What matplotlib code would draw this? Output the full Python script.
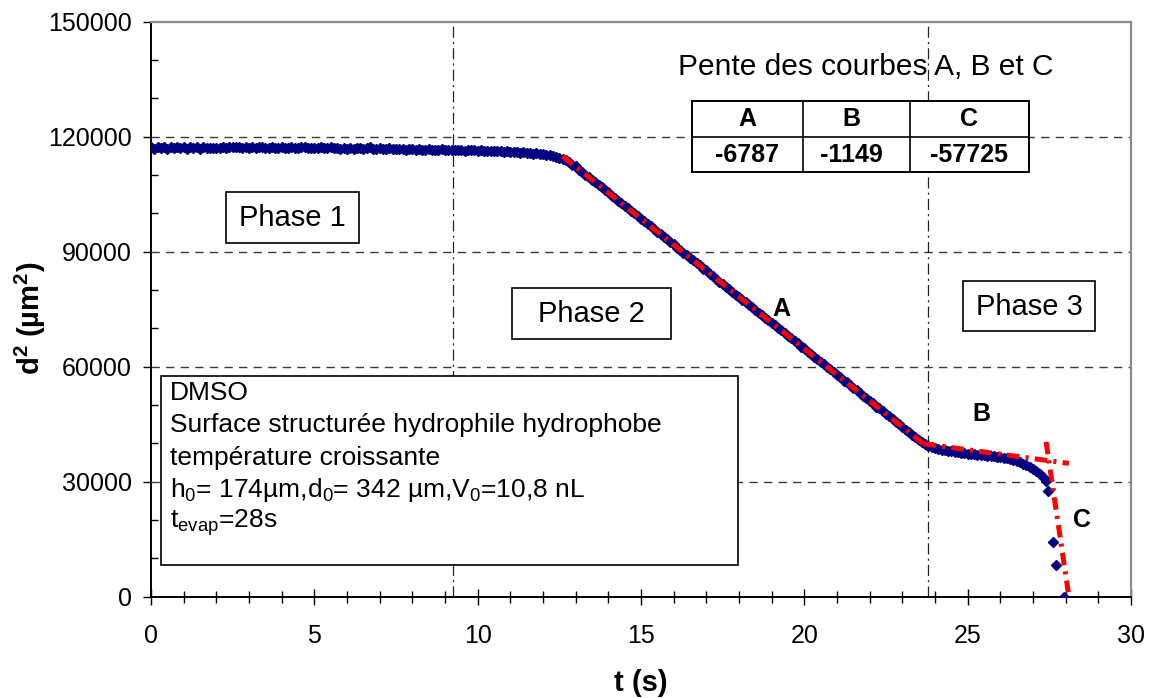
import numpy as np
import matplotlib
matplotlib.use("Agg")
import matplotlib.pyplot as plt
from matplotlib.patches import Rectangle
from matplotlib.ticker import MultipleLocator, FuncFormatter

plt.rcParams['font.family'] = ['Liberation Sans', 'DejaVu Sans']
plt.rcParams['mathtext.default'] = 'regular'
plt.rcParams['lines.scale_dashes'] = False

# Squared diameter d² (thousands of µm²), one sample every 0.1 s from t = 0 s
t_step = 0.1
d2_main_k = [
    117.3, 116.9, 117.4, 117.0, 117.3, 116.9, 117.4, 117.1, 117.3, 117.0,
    117.2, 116.9, 117.3, 117.1, 117.2, 116.9, 117.3, 117.0, 117.1, 117.0,
    117.1, 117.0, 117.2, 117.1, 117.4, 117.3, 117.2, 117.4, 117.1, 117.2,
    117.1, 117.3, 117.0, 117.2, 117.3, 117.0, 117.1, 117.2, 117.0, 117.1,
    117.3, 117.1, 117.0, 117.2, 117.1, 117.0, 117.2, 117.3, 117.1, 117.0,
    117.1, 117.0, 117.2, 117.1, 117.0, 117.3, 117.1, 117.0, 116.9, 117.1,
    116.8, 117.0, 116.9, 117.0, 117.1, 116.9, 117.0, 117.2, 116.9, 116.8,
    117.0, 116.9, 116.8, 117.0, 116.9, 116.7, 116.9, 116.8, 116.6, 116.8,
    116.7, 116.6, 116.8, 116.6, 116.5, 116.7, 116.6, 116.5, 116.6, 116.7,
    116.6, 116.5, 116.6, 116.5, 116.6, 116.5, 116.4, 116.6, 116.5, 116.5,
    116.4, 116.5, 116.3, 116.4, 116.3, 116.4, 116.2, 116.3, 116.1, 116.2,
    116.0, 116.1, 115.9, 115.8, 115.9, 115.7, 115.8, 115.6, 115.7, 115.5,
    115.4, 115.3, 115.1, 114.9, 114.7, 114.5, 114.2, 113.8, 113.3, 112.7,
    112.3, 111.4, 110.9, 110.0, 109.6, 108.7, 108.2, 107.3, 106.9, 106.0,
    105.5, 104.6, 104.1, 103.2, 102.8, 101.9, 101.4, 100.5, 100.1, 99.2,
    98.5, 98.0, 97.1, 96.7, 95.8, 95.2, 94.6, 93.8, 93.3, 92.5,
    91.9, 91.0, 90.5, 89.7, 89.1, 88.4, 87.8, 87.0, 86.5, 85.6,
    85.1, 84.2, 83.7, 83.0, 82.2, 81.7, 80.9, 80.3, 79.6, 78.8,
    78.3, 77.4, 76.9, 76.2, 75.5, 74.8, 74.1, 73.5, 72.7, 72.2,
    71.3, 70.9, 70.0, 69.5, 68.7, 68.1, 67.5, 66.6, 66.1, 65.2,
    64.8, 63.9, 63.4, 62.6, 62.0, 61.2, 60.7, 59.9, 59.3, 58.5,
    57.9, 57.3, 56.4, 55.9, 55.2, 54.4, 53.9, 53.1, 52.4, 51.9,
    51.0, 50.5, 49.6, 49.1, 48.4, 47.6, 47.1, 46.3, 45.7, 45.0,
    44.4, 43.6, 43.0, 42.2, 41.6, 40.9, 40.3, 39.8, 39.3, 39.1,
    38.8, 38.6, 38.4, 38.3, 38.1, 38.0, 37.8, 37.7, 37.6, 37.4,
    37.3, 37.2, 37.2, 37.0, 37.0, 36.9, 36.8, 36.7, 36.6, 36.5,
    36.4, 36.3, 36.1, 35.9, 35.7, 35.4, 35.1, 34.7, 34.3, 33.8,
    33.3, 32.7, 32.0, 31.2,
]
# Last frames, when the drop collapses
t_tail = [27.40, 27.46, 27.60, 27.69, 27.94]
d2_tail_k = [30.1, 27.7, 14.4, 8.3, 0.0]

# Linear fits (slopes in µm²/s) and the time span each is drawn over
fit_names = ['A', 'B', 'C']
fit_slopes = [-6787, -1149, -57725]
fit_intercepts = [200400, 67060, 1622070]
fit_spans = [(12.6, 23.8), (23.65, 28.1), (27.4, 28.08)]

# Boundaries between the evaporation phases (s)
phase_limits = [9.24, 23.8]

W, H = 1149, 698
fig = plt.figure(figsize=(W / 100, H / 100), dpi=100)


def fx(x):
    return x / W


def fy(y):
    return 1 - y / H


ax_left, ax_right, ax_top, ax_bottom = 151, 1131, 21.7, 596.7
ax = fig.add_axes([fx(ax_left), fy(ax_bottom), (ax_right - ax_left) / W,
                   (ax_bottom - ax_top) / H])

t_main = np.arange(len(d2_main_k)) * t_step
d2_main = np.array(d2_main_k) * 1000
t_all = np.concatenate([t_main, t_tail])
d2_all = np.concatenate([d2_main, np.array(d2_tail_k) * 1000])

ax.set_xlim(0, 30)
ax.set_ylim(0, 150000)

# horizontal grid and phase separators
for yv in [30000, 60000, 90000, 120000]:
    ax.axhline(yv, color='#3a3a3a', lw=1.0, ls=(0, (6, 4.5)), zorder=1)
for tv in phase_limits:
    ax.axvline(tv, color='#222222', lw=0.9, ls=(0, (8, 3, 1.5, 3)), zorder=1)

ax.plot(t_all, d2_all, ls='none', marker='D', ms=5.4, mew=1.0,
        color='#000080', mec='#000080', zorder=3)

for (t0, t1), a, b in zip(fit_spans, fit_slopes, fit_intercepts):
    tt = np.array([t0, t1])
    ax.plot(tt, b + a * tt, color='#ff0000', lw=3.6,
            ls=(0, (9, 4.5, 2.2, 4.5)), solid_capstyle='butt',
            dash_capstyle='butt', zorder=4)

# axes styling
for side in ['left', 'bottom']:
    ax.spines[side].set_color('black')
    ax.spines[side].set_linewidth(1.4)
for side in ['top', 'right']:
    ax.spines[side].set_color('#8c8c8c')
    ax.spines[side].set_linewidth(1.6)

ax.xaxis.set_major_locator(MultipleLocator(5))
ax.xaxis.set_minor_locator(MultipleLocator(1))
ax.yaxis.set_major_locator(MultipleLocator(30000))
ax.yaxis.set_minor_locator(MultipleLocator(10000))
ax.yaxis.set_major_formatter(FuncFormatter(lambda v, p: f"{int(v)}"))
ax.tick_params(axis='x', which='major', direction='inout', length=11,
               width=1, labelsize=18, pad=14)
ax.tick_params(axis='x', which='minor', direction='inout', length=8, width=1)
ax.tick_params(axis='y', which='major', direction='out', length=6,
               width=1, labelsize=18, pad=8)
ax.tick_params(axis='y', which='minor', direction='in', length=5, width=1)

fig.text(fx(641), fy(683), 't (s)', ha='center', va='center',
         fontsize=21, fontweight='bold')
fig.text(fx(30), fy(318), r'd$^{2}$ (µm$^{2}$)', ha='center', va='center',
         fontsize=21, fontweight='bold', rotation=90)


def box(x0, y0, x1, y1, lw=1.2):
    fig.patches.append(Rectangle((fx(x0), fy(y1)), (x1 - x0) / W,
                                 (y1 - y0) / H, transform=fig.transFigure,
                                 fill=True, fc='white', ec='black', lw=lw,
                                 zorder=5))


# phase labels
box(226, 192, 359, 243)
fig.text(fx(292.5), fy(217.5), 'Phase 1', ha='center', va='center',
         fontsize=21, zorder=6)
box(512, 288, 671, 339)
fig.text(fx(591.5), fy(314), 'Phase 2', ha='center', va='center',
         fontsize=21, zorder=6)
box(963, 281, 1095, 331)
fig.text(fx(1029), fy(306.5), 'Phase 3', ha='center', va='center',
         fontsize=21, zorder=6)

# experiment description
box(161, 376, 738, 565)
desc = ['DMSO',
        'Surface structurée hydrophile hydrophobe',
        'température croissante',
        r'h$_{0}$= 174µm,d$_{0}$= 342 µm,V$_{0}$=10,8 nL',
        r't$_{evap}$=28s']
for i, line in enumerate(desc):
    fig.text(fx(170), fy(393 + i * 32.3), line, ha='left', va='center',
             fontsize=19, zorder=6)

# slope table
fig.text(fx(866), fy(67), 'Pente des courbes A, B et C', ha='center',
         va='center', fontsize=21.5)
box(692, 101, 1029, 172, lw=1.4)
for xv in [803, 910]:
    fig.add_artist(plt.Line2D([fx(xv), fx(xv)], [fy(101), fy(172)],
                              transform=fig.transFigure, color='black',
                              lw=1.2, zorder=6))
fig.add_artist(plt.Line2D([fx(692), fx(1029)], [fy(137), fy(137)],
                          transform=fig.transFigure, color='black', lw=1.2,
                          zorder=6))
col_x = [747, 851, 969]
for cx, name, slope in zip(col_x, fit_names, fit_slopes):
    fig.text(fx(cx), fy(119), name, ha='center', va='center', fontsize=18,
             fontweight='bold', zorder=7)
    fig.text(fx(cx), fy(155), f"{slope}", ha='center', va='center',
             fontsize=18, fontweight='bold', zorder=7)

# curve labels
for name, (px_, py_) in zip(fit_names, [(781, 309), (981, 414), (1082, 520)]):
    fig.text(fx(px_), fy(py_), name, ha='center', va='center', fontsize=18,
             fontweight='bold', zorder=7)

fig.savefig('out.png', dpi=100)
